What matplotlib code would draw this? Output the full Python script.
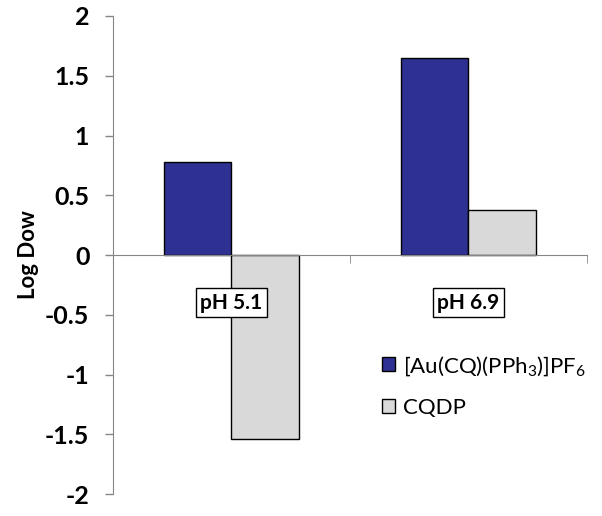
import matplotlib.pyplot as plt
import numpy as np

plt.rcParams['font.family'] = ['Lato', 'DejaVu Sans']
plt.rcParams['mathtext.default'] = 'regular'

categories = ['pH 5.1', 'pH 6.9']
series_names = [r'[Au(CQ)(PPh$_3$)]PF$_6$', 'CQDP']
au_values = [0.78, 1.65]
cqdp_values = [-1.54, 0.38]
y_ticks = [-2, -1.5, -1, -0.5, 0, 0.5, 1, 1.5, 2]

fig = plt.figure(figsize=(6.02, 5.16), dpi=100)
ax = fig.add_axes([0.1877, 0.0426, 0.7873, 0.9264])

x = np.arange(len(categories))
w = 1 / 3.5
ax.bar(x - w / 2, au_values, width=w, color='#2E3192', edgecolor='black', linewidth=1, label=series_names[0])
ax.bar(x + w / 2, cqdp_values, width=w, color='#D9D9D9', edgecolor='black', linewidth=1, label=series_names[1])

ax.set_xlim(-0.5, len(categories) - 0.5)
ax.set_ylim(-2, 2)
ax.set_yticks(y_ticks)
ax.set_yticklabels([f'{t:g}' for t in y_ticks], fontsize=18, fontweight='bold')
ax.tick_params(axis='y', direction='out', length=6, color='#868686', width=1, pad=11)

for s in ['top', 'right']:
    ax.spines[s].set_visible(False)
ax.spines['left'].set_color('#868686')
ax.spines['bottom'].set_color('#868686')
ax.spines['bottom'].set_position(('data', 0))

ax.set_xticks(x)
ax.set_xticklabels(categories, fontsize=15, fontweight='bold')
for lab in ax.get_xticklabels():
    lab.set_bbox(dict(facecolor='white', edgecolor='black', boxstyle='square,pad=0.2', linewidth=1))
ax.tick_params(axis='x', which='major', length=0, pad=27)
ax.set_xticks([-0.5, 0.5, 1.5], minor=True)
ax.tick_params(axis='x', which='minor', direction='out', length=6, color='#868686')

ax.set_ylabel('Log Dow', fontsize=16, fontweight='bold', labelpad=4)

ax.legend(loc='upper left', bbox_to_anchor=(0.525, 0.335), frameon=False, fontsize=16,
          handlelength=0.6, handleheight=0.6, handletextpad=0.35, labelspacing=0.9)

fig.savefig('out.png', dpi=100)
